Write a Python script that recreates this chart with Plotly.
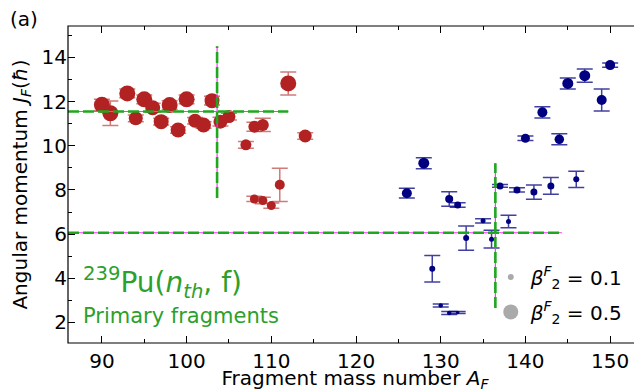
import plotly.graph_objects as go

# ---------------- data ----------------
red_A = [90, 91, 93, 94, 95, 96, 97, 98, 99, 100, 101, 102, 103, 104, 105, 107, 108, 109, 112, 114, 108, 109, 110, 111]
red_J = [11.85, 11.47, 12.37, 11.24, 12.1, 11.72, 11.09, 11.84, 10.71, 12.1, 11.13, 10.94, 12.04, 11.09, 11.32,
         10.04, 10.86, 10.94, 12.82, 10.44, 7.59, 7.52, 7.29, 8.23]
red_err = [0.25, 0.55, 0.2, 0.15, 0.2, 0.2, 0.15, 0.2, 0.15, 0.2, 0.15, 0.15, 0.2, 0.2, 0.15,
           0.15, 0.2, 0.3, 0.52, 0.15, 0.12, 0.15, 0.12, 0.75]
red_size = [16, 16, 16, 14, 16, 15, 15, 16, 15, 16, 14, 15, 15, 14, 13, 11, 12, 12, 16, 13, 9, 9, 9, 10]

blue_A = [126, 128, 129, 130, 131, 131, 132, 132, 133, 135, 136, 137, 138, 139, 140, 141, 142, 143, 144, 145,
          146, 147, 149, 150]
blue_J = [7.85, 9.21, 4.43, 2.77, 7.59, 2.43, 7.32, 2.45, 5.82, 6.6, 5.77, 8.18, 6.57, 8.0, 10.34, 7.9, 11.51,
          8.18, 10.29, 12.82, 8.48, 13.17, 12.07, 13.65]
blue_err = [0.22, 0.25, 0.6, 0.07, 0.33, 0.07, 0.1, 0.05, 0.55, 0.1, 0.4, 0.06, 0.28, 0.1, 0.1, 0.32, 0.25,
            0.38, 0.25, 0.25, 0.37, 0.3, 0.5, 0.1]
blue_size = [10, 11, 6, 4.5, 8, 4.5, 7, 3.5, 6, 5, 5, 7, 5, 7, 9, 7, 10, 7, 9.5, 11, 6, 11, 10, 10]

# mean values (crosshair lines)
light_mean_A, light_mean_J = 103.6, 11.55
light_h_end, light_v_range = 112.0, [7.63, 14.5]
heavy_mean_A, heavy_mean_J = 136.45, 6.06
heavy_h_end, heavy_v_range = 144.3, [2.65, 9.21]

x_range = [86.0, 153.76]
y_range = [1.07, 15.42]
legend_beta = [0.1, 0.5]
legend_size = [6, 15]

FONT = "DejaVu Sans"
GREEN = "#2ca02c"
LINE_GREEN = "#1fa81f"
RED = "#b22222"
BLUE = "#000080"

fig = go.Figure()

fig.add_trace(go.Scatter(
    x=red_A, y=red_J, mode="markers", showlegend=False,
    marker=dict(color=RED, size=red_size, opacity=1, line=dict(width=0)),
    error_y=dict(type="data", array=red_err, color="rgba(178,34,34,0.6)", thickness=1.5, width=8),
))
fig.add_trace(go.Scatter(
    x=blue_A, y=blue_J, mode="markers", showlegend=False,
    marker=dict(color=BLUE, size=blue_size, opacity=1, line=dict(width=0)),
    error_y=dict(type="data", array=blue_err, color="rgba(0,0,128,0.75)", thickness=1.5, width=8),
))

# crosshair lines: magenta thin under green dashed
segments = [
    ([x_range[0], light_h_end], [light_mean_J, light_mean_J]),
    ([light_mean_A, light_mean_A], light_v_range),
    ([x_range[0], heavy_h_end], [heavy_mean_J, heavy_mean_J]),
    ([heavy_mean_A, heavy_mean_A], heavy_v_range),
]
for xs, ys in segments:
    fig.add_trace(go.Scatter(x=xs, y=ys, mode="lines", showlegend=False, hoverinfo="skip",
                             line=dict(color="#ff33ff", width=1.2), cliponaxis=False))
    fig.add_trace(go.Scatter(x=xs, y=ys, mode="lines", showlegend=False, hoverinfo="skip",
                             line=dict(color=LINE_GREEN, width=2.6, dash="11px,4px"), cliponaxis=False))

# size legend
for i, (b, s) in enumerate(zip(legend_beta, legend_size)):
    fig.add_trace(go.Scatter(
        x=[None], y=[None], mode="markers", legendgroup=f"g{i}",
        name=f"<i>β</i><sup><i>F</i></sup><sub>2</sub> = {b}",
        marker=dict(color="#aaaaaa", size=s, opacity=1, line=dict(width=0)),
    ))

axis_common = dict(
    showline=False, mirror="ticks", ticks="inside", ticklen=7, tickwidth=1.2, tickcolor="black",
    showgrid=False, zeroline=False,
    tickfont=dict(family=FONT, size=20, color="black"),
)

fig.update_xaxes(
    range=x_range, tickvals=[90, 100, 110, 120, 130, 140, 150], ticklabelstandoff=4,
    minor=dict(ticks="inside", ticklen=4, tickwidth=1, tickcolor="black", dtick=5, tick0=0),
    title=dict(text="Fragment mass number <i>A</i><sub><i>F</i></sub>",
               font=dict(family=FONT, size=20, color="black"), standoff=2),
    **axis_common,
)
fig.update_yaxes(
    range=y_range, tickvals=[2, 4, 6, 8, 10, 12, 14],
    minor=dict(ticks="inside", ticklen=4, tickwidth=1, tickcolor="black", dtick=1, tick0=0),
    title=dict(text="Angular momentum <i>J</i><sub><i>F</i></sub>(<i>ħ</i>)",
               font=dict(family=FONT, size=20, color="black"), standoff=8),
    **axis_common,
)

fig.add_shape(type="rect", xref="paper", yref="paper", x0=0, x1=1.006, y0=0, y1=1,
              line=dict(color="black", width=1.2), layer="above")

fig.add_annotation(text="<sup>239</sup>Pu(<i>n</i><sub><i>th</i></sub>, f)", xref="paper", yref="paper",
                   x=0.022, y=0.19, xanchor="left", yanchor="middle", showarrow=False,
                   font=dict(family=FONT, size=28, color=GREEN))
fig.add_annotation(text="Primary fragments", xref="paper", yref="paper",
                   x=0.022, y=0.085, xanchor="left", yanchor="middle", showarrow=False,
                   font=dict(family=FONT, size=21, color=GREEN))
fig.add_annotation(text="(a)", xref="paper", yref="paper",
                   x=-0.1045, y=1.022, xanchor="left", yanchor="middle", showarrow=False,
                   font=dict(family=FONT, size=20, color="black"))

fig.update_layout(
    width=634, height=384,
    margin=dict(l=60, r=0, t=18, b=48.7, autoexpand=False),
    paper_bgcolor="white", plot_bgcolor="white",
    font=dict(family=FONT, size=20, color="black"),
    legend=dict(x=0.7365, y=0.27, xanchor="left", yanchor="top", itemsizing="trace",
                bgcolor="rgba(0,0,0,0)", font=dict(family=FONT, size=20, color="black"),
                tracegroupgap=6),
    showlegend=True,
)

fig.write_html("out.html")
